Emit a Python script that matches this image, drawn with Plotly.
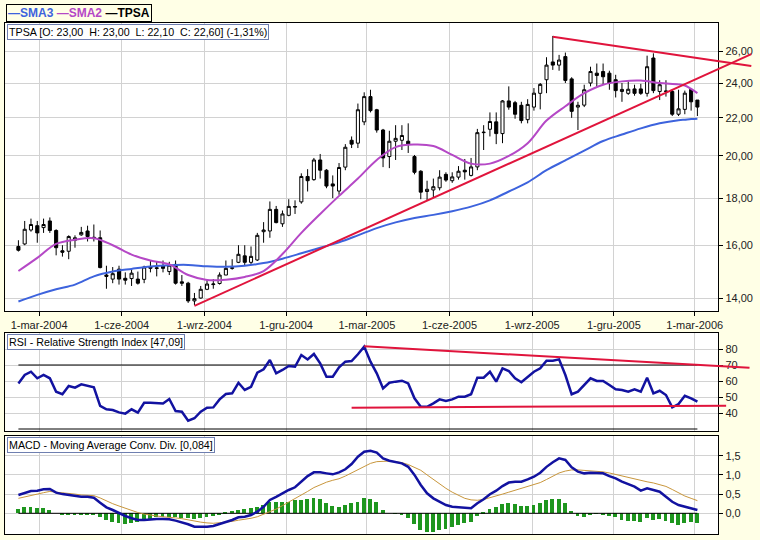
import pandas as pd
import plotly.graph_objects as go

# ---------------- data ----------------
dates = pd.date_range("2004-02-07", periods=109, freq="7D")

opens = [15.95, 16.05, 16.62, 16.8, 16.72, 17.0, 16.6, 15.78, 15.76, 16.2,
         16.42, 16.58, 16.32, 16.3, 14.85, 14.7, 15.07, 14.73, 14.72, 14.7,
         14.69, 15.1, 15.12, 15.2, 14.98, 15.25, 14.6, 14.55, 13.92, 14.02,
         14.33, 14.5, 14.54, 14.85, 15.1, 15.33, 15.58, 15.33, 15.42, 16.55,
         16.58, 17.5, 16.88, 17.24, 17.6, 17.83, 19.0, 18.85, 19.8, 19.3,
         18.65, 18.32, 19.45, 20.8, 20.65, 21.78, 23.2, 22.45, 21.34, 19.97,
         20.75, 20.8, 20.75, 19.97, 19.25, 18.3, 18.37, 18.47, 19.1, 18.8,
         18.97, 19.3, 19.05, 19.46, 21.2, 21.38, 21.78, 21.15, 22.95, 22.85,
         22.7, 21.9, 22.6, 23.39, 24.2, 25.3, 25.1, 25.64, 24.25, 22.6,
         22.71, 24.0, 24.6, 24.7, 24.6, 24.2, 23.5, 23.39, 23.65, 23.65,
         23.39, 25.55, 23.5, 23.5, 23.5, 22.2, 22.47, 23.62, 23.0]
highs = [16.2, 17.0, 17.1, 17.0, 17.1, 17.15, 16.65, 16.0, 16.4, 16.4,
         16.75, 16.8, 16.85, 16.6, 15.2, 15.15, 15.2, 14.95, 15.05, 14.98,
         15.2, 15.4, 15.35, 15.4, 15.35, 15.4, 14.85, 14.6, 14.2, 14.45,
         14.7, 14.7, 14.95, 15.4, 15.45, 16.0, 16.0, 15.95, 16.5, 16.95,
         17.85, 17.65, 17.45, 17.95, 17.9, 19.15, 19.35, 19.9, 20.1, 19.35,
         19.05, 19.65, 20.6, 21.0, 22.8, 23.45, 23.6, 22.5, 21.4, 21.3,
         21.6, 21.6, 21.7, 20.05, 19.3, 18.8, 18.9, 19.3, 19.2, 19.2,
         19.5, 19.85, 19.9, 21.4, 21.6, 22.3, 22.3, 23.0, 23.8, 22.95,
         22.9, 23.05, 23.7, 24.0, 25.6, 27.0, 25.75, 25.9, 24.35, 22.9,
         23.9, 25.0, 25.2, 25.2, 24.75, 24.5, 24.0, 24.1, 23.9, 23.95,
         25.7, 25.85, 24.17, 24.17, 23.6, 23.6, 23.55, 23.65, 23.0]
lows = [15.75, 16.0, 16.55, 16.1, 16.5, 16.5, 15.6, 15.55, 15.45, 15.9,
        16.38, 16.15, 16.15, 15.1, 14.35, 14.55, 14.5, 14.5, 14.45, 14.5,
        14.55, 14.95, 14.8, 14.95, 14.85, 14.5, 14.45, 13.85, 13.78, 14.0,
        14.3, 14.35, 14.5, 14.85, 15.05, 15.3, 15.2, 15.25, 15.38, 16.1,
        16.3, 16.9, 16.75, 17.2, 17.3, 17.75, 18.3, 18.8, 18.9, 18.45,
        18.0, 18.15, 19.3, 20.4, 20.4, 21.6, 22.3, 21.2, 19.45, 19.4,
        19.8, 20.3, 20.15, 19.1, 17.95, 17.9, 18.0, 18.35, 18.75, 18.7,
        18.85, 18.85, 19.0, 19.3, 20.3, 21.0, 20.6, 20.65, 22.45, 21.95,
        21.7, 21.7, 22.4, 22.47, 23.4, 24.8, 24.75, 24.0, 22.0, 21.34,
        22.6, 23.8, 23.75, 23.9, 23.6, 23.15, 22.9, 23.3, 23.25, 23.3,
        23.2, 23.4, 23.0, 23.2, 22.1, 22.1, 22.2, 22.4, 22.1]
closes = [15.8, 16.65, 16.85, 16.5, 16.85, 16.6, 15.9, 15.72, 16.35, 16.3,
          16.52, 16.35, 16.28, 15.13, 14.8, 14.9, 14.7, 14.66, 14.92, 14.55,
          15.15, 15.15, 15.1, 15.1, 15.22, 14.55, 14.55, 13.92, 14.0, 14.33,
          14.52, 14.52, 14.85, 15.1, 15.12, 15.64, 15.33, 15.56, 16.4, 16.62,
          17.5, 16.93, 17.3, 17.63, 17.62, 19.0, 18.8, 19.8, 19.3, 18.55,
          18.55, 19.43, 20.44, 20.6, 22.45, 23.2, 22.4, 21.34, 19.9, 20.75,
          20.9, 21.05, 20.6, 19.2, 18.27, 18.4, 18.52, 18.97, 18.83, 18.98,
          19.25, 19.22, 19.46, 21.2, 21.22, 21.8, 21.15, 22.95, 22.6, 22.2,
          21.85, 22.75, 23.4, 23.92, 25.1, 25.1, 25.42, 24.16, 22.36, 22.7,
          23.6, 24.7, 24.46, 24.38, 24.0, 23.55, 23.62, 23.63, 23.39, 23.39,
          25.0, 23.55, 23.9, 23.52, 22.2, 22.5, 23.4, 22.9, 22.6]

# moving averages at selected weeks
sma_weeks = [0, 3, 6, 9, 12, 15, 18, 21, 24, 27, 30, 33, 36, 39, 42, 45, 48, 51,
             54, 57, 60, 63, 66, 69, 72, 75, 78, 81, 84, 87, 90, 93, 96, 99,
             102, 105, 106, 107, 108]
sma2 = [15.0, 15.5, 16.05, 16.22, 16.28, 16.0, 15.63, 15.4, 15.25, 14.85,
        14.67, 14.68, 14.78, 15.0, 15.65, 16.5, 17.3, 18.1, 18.9, 19.8,
        20.45, 20.58, 20.5, 20.05, 19.62, 19.62, 20.0, 20.65, 21.85, 22.65,
        23.4, 23.9, 24.1, 24.15, 24.0, 23.92, 23.85, 23.65, 23.4]
sma3 = [13.9, 14.13, 14.33, 14.5, 14.8, 14.98, 15.08, 15.17, 15.22, 15.23,
        15.18, 15.16, 15.2, 15.3, 15.47, 15.68, 15.9, 16.12, 16.4, 16.7,
        16.94, 17.13, 17.26, 17.42, 17.62, 17.9, 18.3, 18.72, 19.3, 19.78,
        20.27, 20.76, 21.1, 21.43, 21.7, 21.87, 21.9, 21.93, 21.95]

rsi = [58.5, 63.75, 65.8, 61.7, 63.75, 61.7, 53.3, 51.7, 56.9, 55.8,
       57.9, 56.9, 56.0, 44.4, 42.3, 41.9, 40.4, 39.6, 42.3, 40.2,
       46.4, 46.4, 46.0, 46.0, 48.75, 41.25, 40.8, 35.2, 36.7, 40.8,
       43.3, 43.5, 48.5, 51.9, 52.3, 58.9, 54.4, 56.4, 65.2, 67.3,
       73.1, 64.8, 66.9, 69.4, 68.9, 76.25, 73.5, 76.9, 71.0, 62.7,
       62.7, 68.5, 72.1, 72.5, 76.7, 81.5, 72.1, 64.8, 55.4, 58.9,
       59.6, 60.2, 58.5, 49.2, 43.9, 43.9, 46.0, 48.5, 47.5, 48.5,
       50.2, 50.2, 51.7, 62.1, 62.1, 65.8, 59.6, 67.9, 66.25, 61.7,
       59.2, 62.7, 65.8, 67.9, 72.7, 72.7, 73.5, 63.75, 51.7, 53.3,
       57.5, 61.7, 60.0, 60.0, 57.5, 54.8, 54.4, 53.3, 54.8, 53.3,
       62.1, 52.3, 53.9, 51.25, 43.5, 45.6, 50.8, 49.2, 47.09]

macd = [0.477, 0.537, 0.58, 0.59, 0.625, 0.633, 0.537, 0.50, 0.477, 0.45,
        0.43, 0.43, 0.406, 0.276, 0.156, 0.086, 0.0, -0.07, -0.13, -0.174,
        -0.174, -0.156, -0.15, -0.15, -0.156, -0.19, -0.234, -0.286, -0.35, -0.35,
        -0.35, -0.33, -0.28, -0.22, -0.174, -0.104, -0.088, -0.044, 0.043, 0.17,
        0.346, 0.43, 0.52, 0.607, 0.677, 0.823, 0.97, 1.067, 1.067, 1.04,
        1.015, 1.067, 1.146, 1.284, 1.474, 1.604, 1.63, 1.58, 1.43, 1.37,
        1.33, 1.30, 1.21, 1.0, 0.737, 0.52, 0.39, 0.30, 0.216, 0.17,
        0.156, 0.13, 0.13, 0.26, 0.365, 0.495, 0.59, 0.71, 0.8, 0.823,
        0.823, 0.885, 0.953, 1.057, 1.21, 1.33, 1.43, 1.39, 1.20, 1.085,
        1.04, 1.057, 1.057, 1.04, 0.97, 0.91, 0.823, 0.755, 0.693, 0.59,
        0.65, 0.607, 0.563, 0.43, 0.30, 0.216, 0.17, 0.11, 0.084]
signal = [0.39, 0.43, 0.477, 0.50, 0.537, 0.57, 0.55, 0.537, 0.52, 0.5,
          0.477, 0.477, 0.46, 0.40, 0.32, 0.25, 0.19, 0.13, 0.08, 0.02,
          -0.02, -0.05, -0.07, -0.09, -0.1, -0.12, -0.14, -0.17, -0.21, -0.23,
          -0.25, -0.26, -0.245, -0.23, -0.21, -0.18, -0.16, -0.13, -0.09, -0.03,
          0.04, 0.11, 0.2, 0.29, 0.37, 0.46, 0.57, 0.67, 0.75, 0.81,
          0.86, 0.9, 0.97, 1.05, 1.14, 1.23, 1.3, 1.345, 1.36, 1.36,
          1.345, 1.32, 1.27, 1.2, 1.12, 1.0, 0.88, 0.76, 0.65, 0.55,
          0.46, 0.39, 0.35, 0.34, 0.36, 0.4, 0.45, 0.5, 0.55, 0.6,
          0.64, 0.69, 0.74, 0.8, 0.88, 0.96, 1.05, 1.1, 1.13, 1.13,
          1.12, 1.1, 1.09, 1.08, 1.05, 1.01, 0.98, 0.94, 0.9, 0.86,
          0.82, 0.79, 0.75, 0.7, 0.62, 0.53, 0.45, 0.39, 0.33]
hist = [0.11, 0.16, 0.16, 0.14, 0.13, 0.087, 0.0, -0.03, -0.03, -0.03,
        -0.03, -0.03, -0.05, -0.1, -0.174, -0.217, -0.26, -0.278, -0.243, -0.217,
        -0.174, -0.156, -0.1, -0.087, -0.087, -0.1, -0.13, -0.13, -0.156, -0.13,
        -0.1, -0.07, -0.04, 0.026, 0.06, 0.087, 0.12, 0.13, 0.17, 0.217,
        0.30, 0.30, 0.30, 0.30, 0.346, 0.346, 0.365, 0.39, 0.37, 0.28,
        0.19, 0.17, 0.217, 0.26, 0.30, 0.39, 0.365, 0.29, 0.087, 0.0,
        -0.017, -0.04, -0.13, -0.278, -0.434, -0.477, -0.477, -0.434, -0.417, -0.35,
        -0.3, -0.243, -0.217, -0.07, 0.043, 0.11, 0.156, 0.243, 0.26, 0.243,
        0.19, 0.19, 0.217, 0.28, 0.346, 0.37, 0.365, 0.28, 0.06, -0.07,
        -0.1, -0.04, -0.017, -0.04, -0.07, -0.1, -0.174, -0.19, -0.19, -0.217,
        -0.13, -0.174, -0.156, -0.19, -0.26, -0.3, -0.243, -0.234, -0.243]

# trend lines (date, value) pairs
trend_price_low = [(dates[28], 13.75), (pd.Timestamp("2006-05-03"), 25.8)]
trend_price_high = [(dates[85], 26.95), (pd.Timestamp("2006-05-03"), 25.04)]
trend_rsi_high = [(dates[55], 81.7), (pd.Timestamp("2006-05-01"), 68.3)]
trend_rsi_low = [(dates[53], 43.3), (pd.Timestamp("2006-04-05"), 44.6)]

tick_dates = ["2004-03-01", "2004-06-01", "2004-09-01", "2004-12-01", "2005-03-01",
              "2005-06-01", "2005-09-01", "2005-12-01", "2006-03-01"]
tick_text = ["1-mar-2004", "1-cze-2004", "1-wrz-2004", "1-gru-2004", "1-mar-2005",
             "1-cze-2005", "1-wrz-2005", "1-gru-2005", "1-mar-2006"]
price_ticks = [14, 16, 18, 20, 22, 24, 26]
price_tick_text = ["14,00", "16,00", "18,00", "20,00", "22,00", "24,00", "26,00"]
rsi_ticks = [40, 50, 60, 70, 80]
macd_ticks = [0.0, 0.5, 1.0, 1.5]
macd_tick_text = ["0,0", "0,5", "1,0", "1,5"]

# ---------------- styling ----------------
BG = "#FFFFE6"
GRID = "#d2d2d2"
BLUE = "#3d63dd"
MAG = "#b548c6"
RED = "#e0143c"
NAVY = "#1212a0"
FONT = "Liberation Sans, Arial, sans-serif"
W, H = 760, 540


def px_x(p):
    return p / W


def px_y(p):
    return 1 - p / H


PLOT_L, PLOT_R, EXT_R = 5.5, 723.0, 757.0
xdom = [px_x(PLOT_L), px_x(PLOT_R)]
x_range = ["2004-01-23 14:00", "2006-03-27 05:00"]
# wider (invisible) overlay axis so trend lines can run past the frame, same scale
_x0, _x1 = pd.Timestamp(x_range[0]), pd.Timestamp(x_range[1])
x_range_ext = [_x0, _x0 + (_x1 - _x0) * ((EXT_R - PLOT_L) / (PLOT_R - PLOT_L))]

main_dom = [px_y(311), px_y(23)]
rsi_dom = [px_y(431), px_y(333)]
macd_dom = [px_y(534), px_y(436)]
main_range = [1.13268, 1.4454]
rsi_range = [28.75, 90]

fig = go.Figure()

fig.add_trace(go.Candlestick(
    x=dates, open=opens, high=highs, low=lows, close=closes,
    increasing=dict(line=dict(color="black", width=1), fillcolor="white"),
    decreasing=dict(line=dict(color="black", width=1), fillcolor="black"),
    xaxis="x", yaxis="y", name="TPSA", showlegend=False))

sma_dates = [dates[i] for i in sma_weeks]
fig.add_trace(go.Scatter(x=sma_dates, y=sma3, mode="lines", line=dict(color=BLUE, width=2),
                         xaxis="x", yaxis="y", showlegend=False, line_shape="spline"))
fig.add_trace(go.Scatter(x=sma_dates, y=sma2, mode="lines", line=dict(color=MAG, width=2),
                         xaxis="x", yaxis="y", showlegend=False, line_shape="spline"))

# RSI panel
for lvl in (70, 30):
    fig.add_trace(go.Scatter(x=[dates[0], dates[-1]], y=[lvl, lvl], mode="lines",
                             line=dict(color="black", width=1), xaxis="x2", yaxis="y2",
                             showlegend=False))
fig.add_trace(go.Scatter(x=dates, y=rsi, mode="lines", line=dict(color=NAVY, width=2.5),
                         xaxis="x2", yaxis="y2", showlegend=False))

# MACD panel
fig.add_trace(go.Bar(x=dates, y=hist, marker=dict(color="#1e961e", line=dict(width=0)),
                     width=4.3 * 86400000, xaxis="x3", yaxis="y3", showlegend=False))
fig.add_trace(go.Scatter(x=[dates[0], dates[-1]], y=[0, 0], mode="lines",
                         line=dict(color="black", width=1), xaxis="x3", yaxis="y3",
                         showlegend=False))
fig.add_trace(go.Scatter(x=dates, y=signal, mode="lines", line=dict(color="#c8963c", width=1),
                         xaxis="x3", yaxis="y3", showlegend=False))
fig.add_trace(go.Scatter(x=dates, y=macd, mode="lines", line=dict(color=NAVY, width=2.5),
                         xaxis="x3", yaxis="y3", showlegend=False))

# trend lines on the wider overlay axes
for tl in (trend_price_low, trend_price_high):
    fig.add_trace(go.Scatter(x=[p[0] for p in tl], y=[p[1] for p in tl], mode="lines",
                             line=dict(color=RED, width=2), xaxis="x4", yaxis="y4",
                             showlegend=False))
for tl in (trend_rsi_high, trend_rsi_low):
    fig.add_trace(go.Scatter(x=[p[0] for p in tl], y=[p[1] for p in tl], mode="lines",
                             line=dict(color=RED, width=2), xaxis="x4", yaxis="y5",
                             showlegend=False))

axis_common = dict(showline=True, linecolor="black", linewidth=1, mirror=True,
                   gridcolor=GRID, gridwidth=1, zeroline=False)
tickfont = dict(family=FONT, size=11, color="#222222")

fig.update_layout(
    width=W, height=H, margin=dict(l=0, r=0, t=0, b=0),
    paper_bgcolor=BG, plot_bgcolor="rgba(0,0,0,0)", showlegend=False,
    font=dict(family=FONT, size=11, color="black"),
    xaxis=dict(domain=xdom, type="date", range=x_range, anchor="y",
               tickvals=tick_dates, ticktext=tick_text, ticks="outside", ticklen=4,
               tickcolor="black", tickfont=tickfont, rangeslider=dict(visible=False),
               **axis_common),
    yaxis=dict(domain=main_dom, type="log", range=main_range,
               side="right", anchor="x", tickvals=price_ticks, ticktext=price_tick_text,
               ticks="outside", ticklen=4, tickcolor="black", tickfont=tickfont,
               **axis_common),
    xaxis2=dict(domain=xdom, type="date", range=x_range, anchor="y2",
                tickvals=tick_dates, showticklabels=False, **axis_common),
    yaxis2=dict(domain=rsi_dom, range=rsi_range, side="right",
                anchor="x2", tickvals=rsi_ticks, ticks="outside", ticklen=4,
                tickcolor="black", tickfont=tickfont, **axis_common),
    xaxis3=dict(domain=xdom, type="date", range=x_range, anchor="y3",
                tickvals=tick_dates, showticklabels=False, **axis_common),
    yaxis3=dict(domain=macd_dom, range=[-0.539, 2.013], side="right",
                anchor="x3", tickvals=macd_ticks, ticktext=macd_tick_text,
                ticks="outside", ticklen=4, tickcolor="black", tickfont=tickfont,
                **axis_common),
    xaxis4=dict(domain=[px_x(PLOT_L), px_x(EXT_R)], type="date", range=x_range_ext,
                anchor="y4", visible=False, showgrid=False),
    yaxis4=dict(domain=main_dom, type="log", range=main_range, anchor="x4",
                visible=False, showgrid=False),
    yaxis5=dict(domain=rsi_dom, range=rsi_range, anchor="x4",
                visible=False, showgrid=False),
    bargap=0,
)

# white plot backgrounds only inside the three framed panels
for xr, yr in (("x", "y"), ("x2", "y2"), ("x3", "y3")):
    fig.add_shape(type="rect", xref=xr + " domain", yref=yr + " domain",
                  x0=0, x1=1, y0=0, y1=1, fillcolor="white", line=dict(width=0),
                  layer="below")

legend_html = ("<b><span style='color:%s'>—SMA3</span> <span style='color:%s'>—SMA2</span> "
               "<span style='color:black'>—TPSA</span></b>") % (BLUE, MAG)
fig.add_annotation(xref="paper", yref="paper", x=px_x(6), y=px_y(4.5), xanchor="left",
                   yanchor="top", text=legend_html, showarrow=False,
                   font=dict(family=FONT, size=12), bordercolor="black", borderwidth=1,
                   borderpad=1, bgcolor=BG)

box_style = dict(xref="paper", yref="paper", xanchor="left", yanchor="top", showarrow=False,
                 font=dict(family=FONT, size=10.7, color="black"), bordercolor="#6f7fb0",
                 borderwidth=1, borderpad=1, bgcolor="white")
gap = "&nbsp;" * 2
fig.add_annotation(x=px_x(7), y=px_y(24),
                   text="TPSA [O: 23,00" + gap + "H: 23,00" + gap + "L: 22,10" + gap
                        + "C: 22,60] (-1,31%)",
                   **box_style)
fig.add_annotation(x=px_x(7), y=px_y(334), text="RSI - Relative Strength Index [47,09]",
                   **box_style)
fig.add_annotation(x=px_x(7), y=px_y(437), text="MACD - Moving Average Conv. Div. [0,084]",
                   **box_style)

fig.write_html("out.html", config={"displayModeBar": False},
               post_script="document.body.style.margin='0px';")
